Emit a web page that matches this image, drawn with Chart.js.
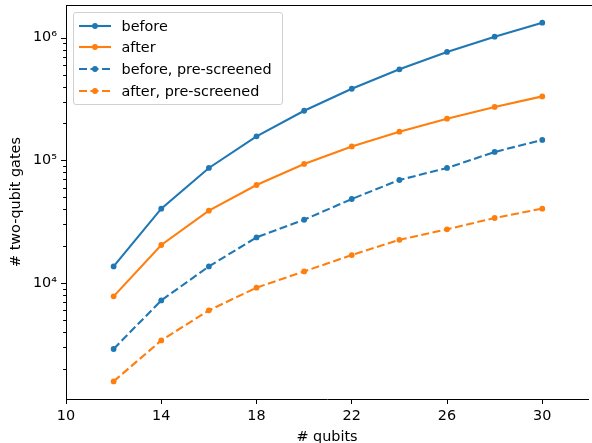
<!DOCTYPE html>
<html>
<head>
<meta charset="utf-8">
<script src="https://cdn.jsdelivr.net/npm/chart.js@4/dist/chart.umd.min.js"></script>
<style>
  html, body { margin: 0; padding: 0; background: #fff; }
  #wrap { position: relative; width: 592px; height: 443px; overflow: hidden; }
  #legend { position: absolute; left: 73px; top: 12px; width: 208px; height: 91px;
    border: 1px solid #d0d0d0; border-radius: 3px; background: rgba(255,255,255,0.8);
    font-family: "DejaVu Sans", sans-serif; font-size: 14.4px; color: #000; }
  .row { position: absolute; left: 0; height: 18px; width: 100%; }
  .row svg { position: absolute; left: 4px; top: 0; }
  .row span { position: absolute; left: 47.5px; top: 0; line-height: 18px; white-space: nowrap; }
</style>
</head>
<body>
<div id="wrap">
  <canvas id="c" width="592" height="443"></canvas>
  <div id="legend"></div>
</div>
<script>
// ---- data ----
const qubits = [12, 14, 16, 18, 20, 22, 24, 26, 28, 30];
const before = [13650, 40400, 86700, 157000, 254000, 384000, 553000, 766000, 1021000, 1328000];
const after = [7780, 20400, 38900, 63000, 93500, 130000, 171400, 218800, 272600, 332600];
const beforePre = [2895, 7210, 13650, 23550, 32800, 48400, 69200, 86700, 117100, 146700];
const afterPre = [1576, 3400, 5980, 9160, 12430, 16900, 22500, 27400, 33900, 40400];
const seriesNames = ["before", "after", "before, pre-screened", "after, pre-screened"];
const xTicks = [10, 14, 18, 22, 26, 30];
const yMajorTicks = [1e4, 1e5, 1e6];
const yMajorLabels = ["10\u2074", "10\u2075", "10\u2076"];

const BLUE = "#1f77b4", ORANGE = "#ff7f0e";
const seriesValues = [before, after, beforePre, afterPre];
const seriesColors = [BLUE, ORANGE, BLUE, ORANGE];
const seriesDashed = [false, false, true, true];
const DASH = [8, 3.5];
const FONT = 14.4;

// all log ticks (minor + major) within range
const yAllTicks = [];
for (let e = 3; e <= 6; e++) {
  for (let m = 1; m <= 9; m++) {
    const v = m * Math.pow(10, e);
    if (v >= 1132 && v <= 1.85e6) yAllTicks.push(v);
  }
}

Chart.defaults.font.family = "'DejaVu Sans', sans-serif";
Chart.defaults.font.size = FONT;
Chart.defaults.color = "#000";

const datasets = seriesNames.map((name, i) => ({
  label: name,
  data: qubits.map((q, j) => ({ x: q, y: seriesValues[i][j] })),
  borderColor: seriesColors[i],
  backgroundColor: seriesColors[i],
  pointBackgroundColor: seriesColors[i],
  pointBorderWidth: 0,
  pointRadius: 2.9,
  borderWidth: 2.1,
  borderDash: seriesDashed[i] ? DASH : [],
  fill: false,
  tension: 0
}));

const frame = {
  id: "frame",
  afterDraw(chart) {
    const ctx = chart.ctx, a = chart.chartArea, y = chart.scales.y;
    ctx.save();
    ctx.strokeStyle = "#000";
    ctx.lineWidth = 1;
    // top spine
    ctx.beginPath();
    ctx.moveTo(a.left, Math.round(a.top) + 0.5);
    ctx.lineTo(chart.width, Math.round(a.top) + 0.5);
    ctx.stroke();
    // y ticks (major + minor)
    yAllTicks.forEach(v => {
      const p = Math.round(y.getPixelForValue(v)) + 0.5;
      const len = yMajorTicks.includes(v) ? 5 : 2.9;
      ctx.beginPath();
      ctx.moveTo(a.left - len, p);
      ctx.lineTo(a.left, p);
      ctx.stroke();
    });
    ctx.restore();
  }
};

new Chart(document.getElementById("c"), {
  type: "line",
  data: { datasets },
  plugins: [frame],
  options: {
    responsive: false,
    animation: false,
    devicePixelRatio: 1,
    layout: { padding: { top: 5, left: 0, right: 0, bottom: 0 } },
    plugins: { legend: { display: false }, tooltip: { enabled: false } },
    scales: {
      x: {
        type: "linear",
        min: 10,
        max: 31.92,
        afterBuildTicks: s => { s.ticks = xTicks.map(v => ({ value: v })); },
        afterFit: s => { s.height = 44; },
        ticks: { autoSkip: false, maxRotation: 0, padding: 4.1, callback: v => String(v) },
        grid: { drawOnChartArea: false, drawTicks: true, tickLength: 5, tickColor: "#000", tickWidth: 1 },
        border: { display: true, color: "#000", width: 1 },
        title: { display: true, text: "# qubits", padding: { top: 0, bottom: -2.7 }, font: { size: FONT } }
      },
      y: {
        type: "logarithmic",
        min: 1132,
        max: 1.85e6,
        afterBuildTicks: s => { s.ticks = yAllTicks.map(v => ({ value: v, major: yMajorTicks.includes(v) })); },
        afterFit: s => { s.width = 66; s.paddingTop = 0; s.paddingBottom = 0; },
        ticks: {
          autoSkip: false,
          padding: 9,
          callback: v => { const k = yMajorTicks.indexOf(v); return k >= 0 ? yMajorLabels[k] : ""; }
        },
        grid: { drawOnChartArea: false, drawTicks: false },
        border: { display: true, color: "#000", width: 1 },
        title: { display: true, text: "# two-qubit gates", padding: { top: 8.1, bottom: 0 }, font: { size: FONT } }
      }
    }
  }
});

// legend (HTML, built from series arrays)
const legend = document.getElementById("legend");
const rowCenters = [12.5, 34.2, 56.2, 77.6];
seriesNames.forEach((name, i) => {
  const row = document.createElement("div");
  row.className = "row";
  row.style.top = (rowCenters[i] - 9) + "px";
  const dash = seriesDashed[i] ? ' stroke-dasharray="' + DASH.join(",") + '"' : "";
  row.innerHTML =
    '<svg width="34" height="18"><line x1="1" y1="9" x2="33" y2="9" stroke="' + seriesColors[i] +
    '" stroke-width="2.1"' + dash + '/><circle cx="17" cy="9" r="2.9" fill="' + seriesColors[i] + '"/></svg>' +
    '<span>' + name + '</span>';
  legend.appendChild(row);
});
</script>
</body>
</html>
